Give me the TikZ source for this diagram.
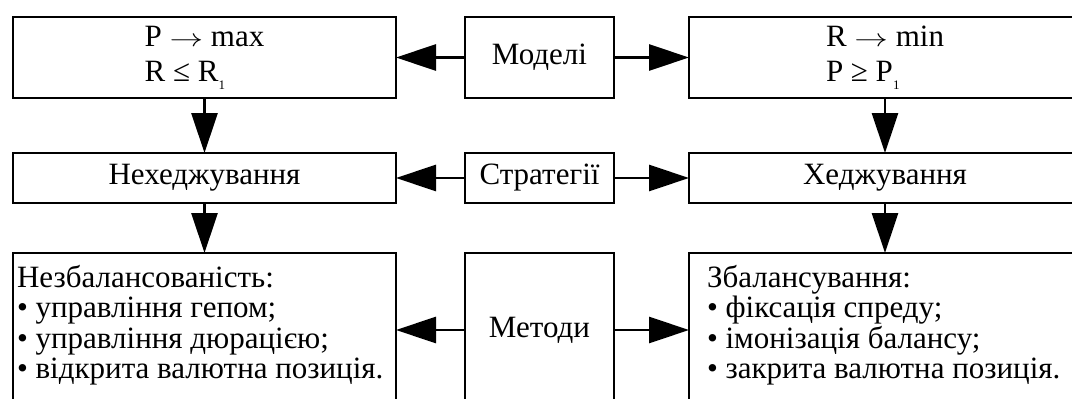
\documentclass[tikz,border=0pt]{standalone}
\usepackage{fontspec}
\setmainfont{Liberation Serif}
\usetikzlibrary{arrows.meta}
\tikzset{
  boxshape/.style={draw=black, line width=2.8pt, inner sep=0pt, outer sep=0pt,
    font=\fontsize{31}{35}\selectfont, align=left},
  txt/.style={inner sep=0pt, outer sep=0pt, align=left,
    font=\fontsize{31}{30.5}\selectfont},
  arr/.style={line width=2.8pt, -{Triangle[length=40pt,width=26pt]}},
}
\newcommand{\subone}{\raisebox{-8pt}{\fontsize{13}{13}\selectfont 1}}
\newcommand{\rarr}{\scalebox{1.35}[1]{\ensuremath{\rightarrow}}}
\begin{document}
\begin{tikzpicture}[x=1pt,y=-1pt]
\path[use as bounding box, fill=white] (0,0) rectangle (1072,399);
\clip (0,0) rectangle (1072,399);
% top row
\node[boxshape, minimum width=383, minimum height=81] (tl) at (204.5,57.5) {P \rarr{} max\\R ≤ R\subone};
\node[boxshape, minimum width=149, minimum height=81] (tm) at (539.5,57.5) {Моделі};
\node[boxshape, minimum width=392, minimum height=81] (tr) at (885,57.5) {R \rarr{} min\\P ≥ P\subone};
% middle row
\node[boxshape, minimum width=383, minimum height=50] (ml) at (204.5,178) {Нехеджування};
\node[boxshape, minimum width=149, minimum height=50] (mm) at (539.5,178) {Стратегії};
\node[boxshape, minimum width=392, minimum height=50] (mr) at (885,178) {Хеджування};
% bottom row
\node[boxshape, minimum width=383, minimum height=154] (bl) at (204.5,330) {};
\node[boxshape, minimum width=149, minimum height=154] (bm) at (539.5,330) {Методи};
\node[boxshape, minimum width=392, minimum height=154] (br) at (885,330) {};
\node[txt, anchor=north west] (blt) at (17,265) {Незбалансованість:\\• управління гепом;\\• управління дюрацією;\\• відкрита валютна позиція.};
\node[txt, anchor=north west] (brt) at (707,265) {Збалансування:\\• фіксація спреду;\\• імонізація балансу;\\• закрита валютна позиція.};
% connectors
\draw[arr] (tm.west) -- (tl.east);
\draw[arr] (tm.east) -- (tr.west);
\draw[arr] (mm.west) -- (ml.east);
\draw[arr] (mm.east) -- (mr.west);
\draw[arr] (bm.west) -- (bl.east);
\draw[arr] (bm.east) -- (br.west);
\draw[arr] (tl.south) -- (ml.north);
\draw[arr] (tr.south) -- (mr.north);
\draw[arr] (ml.south) -- (bl.north);
\draw[arr] (mr.south) -- (br.north);
\end{tikzpicture}
\end{document}
